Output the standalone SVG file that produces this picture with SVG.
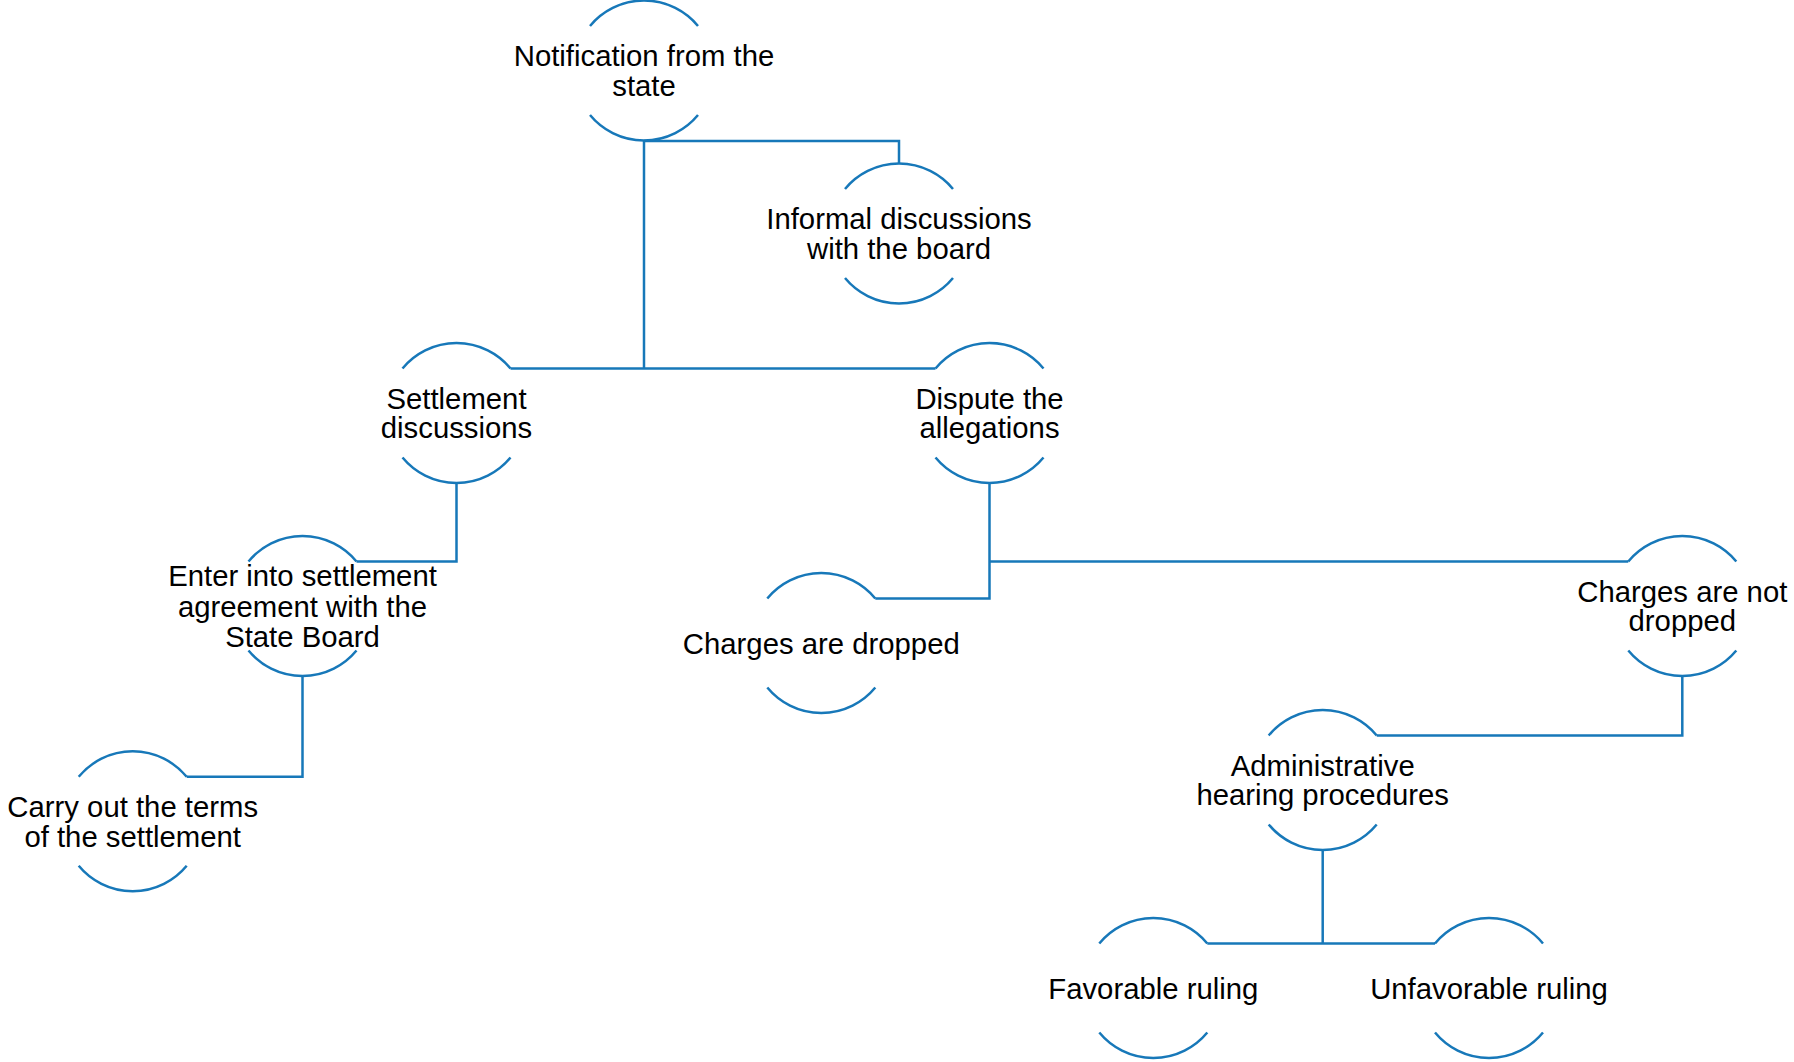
<svg xmlns="http://www.w3.org/2000/svg" width="1794" height="1062" viewBox="0 0 1794 1062">
<defs>
<style>
.arc{fill:none;stroke:#1778B9;stroke-width:2.5}
.con{fill:none;stroke:#1778B9;stroke-width:2.5}
.t{font-family:"Liberation Sans",Arial,sans-serif;font-size:29.3px;fill:#000;text-anchor:middle}
</style>
<g id="shape">
<path id="cap" class="arc" d="M-54,-44.5 A70,70 0 0,1 54,-44.5 M-54,44.5 A70,70 0 0,0 54,44.5"/>
</g>
</defs>
<rect width="1794" height="1062" fill="#fff"/>
<g id="connectors">
<path class="con" d="M644,141 V368.5"/>
<path class="con" d="M644,141 H899 V163.5"/>
<path class="con" d="M510.5,368.5 H935.5"/>
<path class="con" d="M456.5,483.5 V561.5 H356.5"/>
<path class="con" d="M302.5,676.5 V776.8 H186.7"/>
<path class="con" d="M989.5,483.5 V598.5 H875.3"/>
<path class="con" d="M989.5,561.5 H1628.3"/>
<path class="con" d="M1682.3,676.5 V735.5 H1376.7"/>
<path class="con" d="M1322.7,850.5 V943.5"/>
<path class="con" d="M1207.3,943.5 H1435"/>
</g>
<g id="n-notification" transform="translate(644,70.5)">
<use href="#cap"/>
<text class="t" y="-4.3">Notification from the</text>
<text class="t" y="25.4">state</text>
</g>
<g id="n-informal" transform="translate(899,233.5)">
<use href="#cap"/>
<text class="t" y="-4.3">Informal discussions</text>
<text class="t" y="25.4">with the board</text>
</g>
<g id="n-settlement" transform="translate(456.5,413)">
<use href="#cap"/>
<text class="t" y="-4.3">Settlement</text>
<text class="t" y="25.4">discussions</text>
</g>
<g id="n-dispute" transform="translate(989.5,413)">
<use href="#cap"/>
<text class="t" y="-4.3">Dispute the</text>
<text class="t" y="25.4">allegations</text>
</g>
<g id="n-enter" transform="translate(302.5,606)">
<use href="#cap"/>
<text class="t" y="-20">Enter into settlement</text>
<text class="t" y="10.5">agreement with the</text>
<text class="t" y="40.8">State Board</text>
</g>
<g id="n-carry" transform="translate(132.7,821.3)">
<use href="#cap"/>
<text class="t" y="-4.3">Carry out the terms</text>
<text class="t" y="25.4">of the settlement</text>
</g>
<g id="n-dropped" transform="translate(821.3,643)">
<use href="#cap"/>
<text class="t" y="11">Charges are dropped</text>
</g>
<g id="n-notdropped" transform="translate(1682.3,606)">
<use href="#cap"/>
<text class="t" y="-4.3">Charges are not</text>
<text class="t" y="25.4">dropped</text>
</g>
<g id="n-admin" transform="translate(1322.7,780)">
<use href="#cap"/>
<text class="t" y="-4.3">Administrative</text>
<text class="t" y="25.4">hearing procedures</text>
</g>
<g id="n-favorable" transform="translate(1153.3,988)">
<use href="#cap"/>
<text class="t" y="11">Favorable ruling</text>
</g>
<g id="n-unfavorable" transform="translate(1489,988)">
<use href="#cap"/>
<text class="t" y="11">Unfavorable ruling</text>
</g>
</svg>
